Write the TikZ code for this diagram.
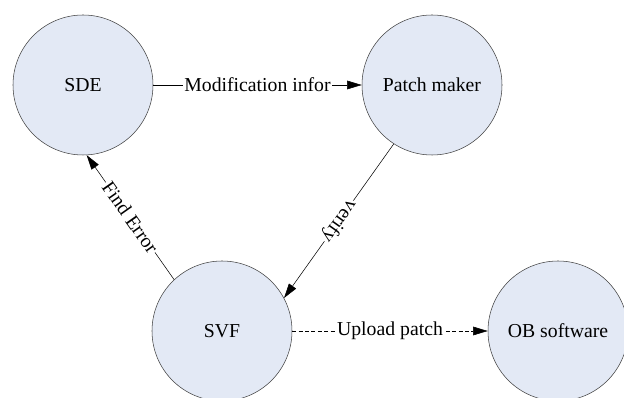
\documentclass[tikz,border=0pt]{standalone}
\usepackage{fontspec}
\setmainfont{Liberation Serif}
\usepackage{tikz}
\usetikzlibrary{arrows.meta,positioning,shapes.geometric}
\definecolor{bubble}{RGB}{227,233,245}

\begin{document}
\begin{tikzpicture}[
    x=0.75pt, y=-0.75pt,
    state/.style={draw=black!75, circle, minimum size=105pt, inner sep=0pt, fill=bubble, font=\fontsize{14.8}{17}\selectfont},
    lbl/.style={fill=white, inner sep=1pt, font=\fontsize{14.8}{17}\selectfont},
    arrow/.style={-{Triangle[length=11pt,width=6.5pt]}}
]
\clip (0,0) rectangle (624,398);
\node[state] (sde) at (83,85) {SDE};
\node[state] (pm) at (432,85) {Patch maker};
\node[state] (svf) at (222,331) {SVF};
\node[state] (ob) at (558,331) {OB software};
\draw[arrow] (sde) -- node[lbl] {Modification infor} (pm);
\draw[arrow] (pm.237.6) -- node[lbl, sloped, allow upside down] {verify} (svf.28.8);
\draw[arrow] (svf.133) -- node[lbl, sloped] {Find Error} (sde.-87);
\draw[arrow, dash pattern=on 3pt off 1.8pt] (svf) -- node[lbl] {Upload patch} (ob);
\end{tikzpicture}
\end{document}
